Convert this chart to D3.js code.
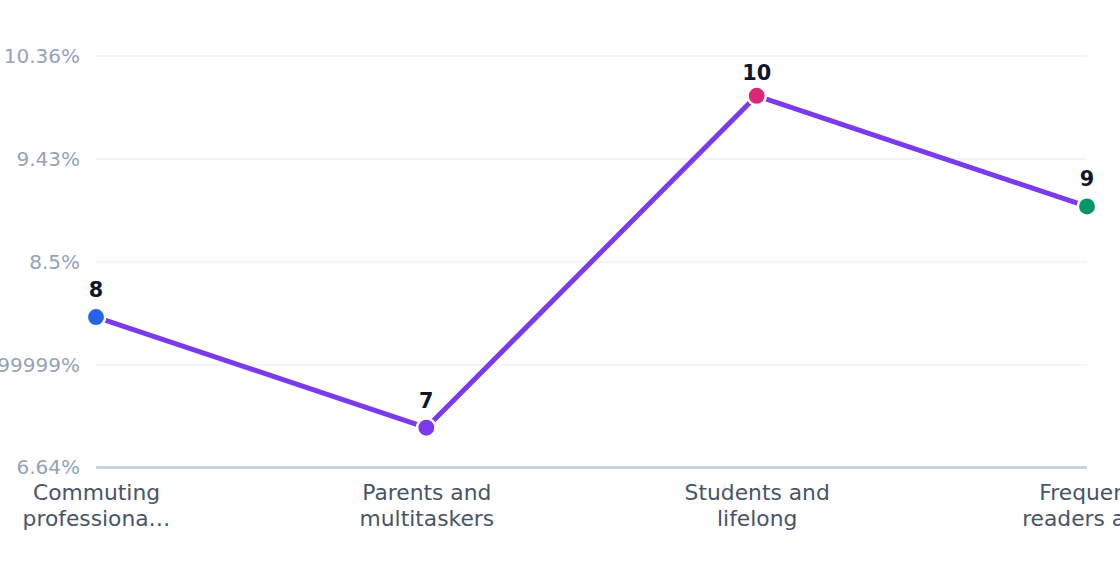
<!DOCTYPE html>
<html>
<head>
<meta charset="utf-8">
<script src="https://cdn.jsdelivr.net/npm/d3@7"></script>
<style>
  html, body { margin: 0; padding: 0; background: #ffffff; overflow: hidden; }
  svg { display: block; font-family: "DejaVu Sans", sans-serif; }
</style>
</head>
<body>
<svg id="chart" width="1120" height="572"></svg>
<script>
const categories = ["Commuting\nprofessiona…", "Parents and\nmultitaskers", "Students and\nlifelong", "Frequent\nreaders and"];
const values = [8, 7, 10, 9];
const pointColors = ["#2563eb", "#7c3aed", "#db2777", "#059669"];
const yTickValues = [6.64, 7.57, 8.5, 9.43, 10.36];
const yTickLabels = ["6.64%", "7.569999999999999%", "8.5%", "9.43%", "10.36%"];
const yDomain = [6.64, 10.36];

const svg = d3.select("#chart");
const mLeft = 96, mRight = 1087, mTop = 56, mBottom = 467.5;

const x = d3.scalePoint().domain(categories).range([mLeft, mRight]);
const y = d3.scaleLinear().domain(yDomain).range([mBottom, mTop]);

// grid lines
svg.append("g")
  .selectAll("line")
  .data(yTickValues.slice(1))
  .join("line")
  .attr("x1", mLeft).attr("x2", mRight)
  .attr("y1", d => y(d)).attr("y2", d => y(d))
  .attr("stroke", "#f1f5f9").attr("stroke-width", 2);

// y axis labels
const yAxis = d3.axisLeft(y).tickValues(yTickValues)
  .tickFormat((d, i) => yTickLabels[i]).tickSize(0).tickPadding(16);
const gy = svg.append("g").attr("transform", `translate(${mLeft},0)`).call(yAxis);
gy.select(".domain").remove();
gy.selectAll("text")
  .attr("fill", "#94a3b8")
  .style("font-size", "20px")
  .style("font-family", "'DejaVu Sans', sans-serif");

// x axis baseline
svg.append("line")
  .attr("x1", mLeft).attr("x2", mRight)
  .attr("y1", y(yDomain[0])).attr("y2", y(yDomain[0]))
  .attr("stroke", "#cbd5e1").attr("stroke-width", 3);

// x axis labels
const xAxis = d3.axisBottom(x).tickSize(0).tickFormat("");
const gx = svg.append("g").attr("transform", `translate(0,${mBottom})`).call(xAxis);
gx.select(".domain").remove();
gx.selectAll(".tick").each(function(d) {
  const t = d3.select(this).append("text")
    .attr("text-anchor", "middle")
    .attr("fill", "#475569")
    .style("font-size", "21.8px")
    .style("font-family", "'DejaVu Sans', sans-serif");
  d.split("\n").forEach((line, i) => {
    t.append("tspan").attr("x", 0).attr("y", 32.5 + i * 26).text(line);
  });
});

// line
const line = d3.line().x((d, i) => x(categories[i])).y(d => y(d));
svg.append("path")
  .datum(values)
  .attr("d", line)
  .attr("fill", "none")
  .attr("stroke", "#7c3aed")
  .attr("stroke-width", 5)
  .attr("stroke-linejoin", "round");

// points
svg.append("g")
  .selectAll("circle")
  .data(values)
  .join("circle")
  .attr("cx", (d, i) => x(categories[i]))
  .attr("cy", d => y(d))
  .attr("r", 9.2)
  .attr("fill", (d, i) => pointColors[i])
  .attr("stroke", "#ffffff")
  .attr("stroke-width", 2.5);

// value labels (kept inside the plot's top area)
svg.append("g")
  .selectAll("text")
  .data(values)
  .join("text")
  .attr("x", (d, i) => x(categories[i]))
  .attr("y", d => Math.max(y(d) - 20, mTop + 24))
  .attr("text-anchor", "middle")
  .attr("fill", "#0f172a")
  .style("font-size", "20.8px")
  .style("font-weight", "bold")
  .style("font-family", "'DejaVu Sans', sans-serif")
  .text(d => d);
</script>
</body>
</html>
